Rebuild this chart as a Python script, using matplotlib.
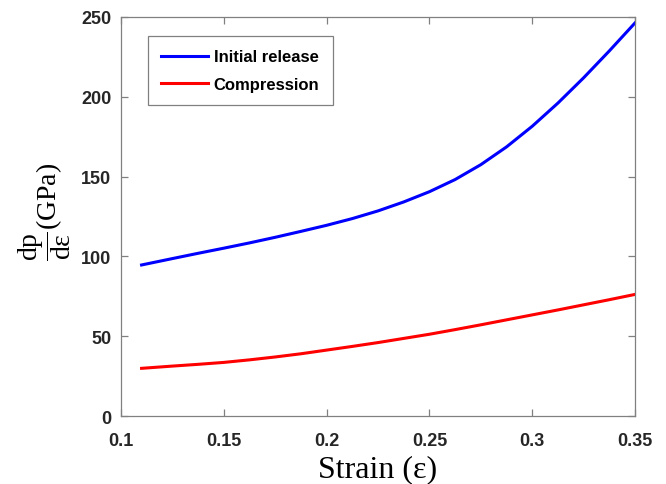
import matplotlib.pyplot as plt

# values
strain = [0.11, 0.125, 0.1375, 0.15, 0.1625, 0.175, 0.1875, 0.2, 0.2125, 0.225,
          0.2375, 0.25, 0.2625, 0.275, 0.2875, 0.3, 0.3125, 0.325, 0.3375, 0.35]
initial_release = [94.7, 98.7, 102, 105.2, 108.5, 112, 115.7, 119.5, 123.7, 128.5,
                    134.1, 140.5, 148.1, 157.4, 168.5, 181.4, 195.9, 211.7, 228.5, 246]
compression = [30.1, 31.5, 32.6, 33.8, 35.4, 37.2, 39.2, 41.5, 43.8, 46.2,
               48.8, 51.4, 54.3, 57.3, 60.4, 63.5, 66.6, 69.8, 73, 76.3]

xticks = [0.1, 0.15, 0.2, 0.25, 0.3, 0.35]
xticklabels = ['0.1', '0.15', '0.2', '0.25', '0.3', '0.35']
yticks = [0, 50, 100, 150, 200, 250]

plt.rcParams['mathtext.fontset'] = 'custom'
plt.rcParams['mathtext.rm'] = 'Liberation Serif'
plt.rcParams['mathtext.it'] = 'Liberation Serif:italic'

fig = plt.figure(figsize=(6.66, 4.85), dpi=100)
ax = fig.add_axes([0.1817, 0.1392, 0.7718, 0.8247])

ax.plot(strain, initial_release, color='#0000ff', lw=2.2, label='Initial release')
ax.plot(strain, compression, color='#ff0000', lw=2.2, label='Compression')

ax.set_xlim(0.1, 0.35)
ax.set_ylim(0, 250)
ax.set_xticks(xticks)
ax.set_xticklabels(xticklabels)
ax.set_yticks(yticks)

for s in ax.spines.values():
    s.set_color('#808080')
    s.set_linewidth(0.9)
ax.tick_params(direction='in', length=5, width=0.9, color='#808080',
               top=True, right=True, labelsize=13, labelcolor='#262626')
ax.tick_params(axis='x', pad=11)
ax.tick_params(axis='y', pad=7)
for lab in ax.get_xticklabels() + ax.get_yticklabels():
    lab.set_fontfamily('Liberation Sans')
    lab.set_fontweight('bold')

ax.set_xlabel('Strain (ε)', family='Liberation Serif', fontsize=23, labelpad=4)
ax.set_ylabel(r'$\mathrm{\dfrac{dp}{dε}}$(GPa)', family='Liberation Serif',
              fontsize=20)
ax.yaxis.set_label_coords(-0.093, 0.515)

leg = ax.legend(loc='upper left', bbox_to_anchor=(0.0525, 0.951), borderaxespad=0,
                prop={'family': 'Liberation Sans', 'weight': 'bold', 'size': 12},
                handlelength=2.8, handletextpad=0.35, labelspacing=0.75,
                borderpad=0.8, fancybox=False, framealpha=1)
leg.get_frame().set_edgecolor('#808080')
leg.get_frame().set_linewidth(0.9)

fig.savefig('out.png', dpi=100)
